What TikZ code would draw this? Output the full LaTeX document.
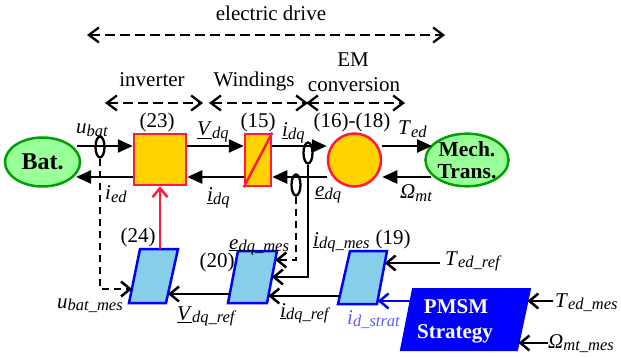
\documentclass[tikz,border=0pt]{standalone}
\usepackage{fontspec}
\setmainfont{Liberation Serif}
\usetikzlibrary{arrows.meta,shapes.geometric}
\definecolor{goldf}{HTML}{FFD200}
\definecolor{redb}{HTML}{FF1A3C}
\definecolor{greenf}{HTML}{99FF99}
\definecolor{greenb}{HTML}{00A000}
\definecolor{skyf}{HTML}{87CEEB}
\definecolor{blueb}{HTML}{0000FF}
\definecolor{stratc}{HTML}{5A5AFF}
\newcommand{\sv}[2]{\textit{#1}\raisebox{-2.5pt}{\fontsize{16.5}{16.5}\selectfont\itshape #2}}
\newcommand{\usv}[2]{\underline{\textit{#1}}\raisebox{-2.5pt}{\fontsize{16.5}{16.5}\selectfont\itshape #2}}
\begin{document}
\begin{tikzpicture}[x=1pt,y=-1pt,
  font=\fontsize{21}{24}\selectfont,
  fa/.style={line width=2.5pt,-{Triangle[length=15pt,width=13pt]}},
  oa/.style={line width=2.5pt,-{Straight Barb[length=9pt,width=15pt]}},
  dsh/.style={dash pattern=on 7pt off 5pt},
  dd/.style={line width=2.3pt,dash pattern=on 10pt off 5pt,
     {Straight Barb[length=10pt,width=15pt]}-{Straight Barb[length=10pt,width=15pt]}},
  lbl/.style={inner sep=0pt},
  pbox/.style={draw=blueb,fill=skyf,line width=2.5pt,line join=miter},
  yb/.style={draw=redb,fill=goldf,line width=2.5pt,inner sep=0pt},
  gel/.style={ellipse,draw=greenb,fill=greenf,line width=2.5pt,inner sep=0pt},
  ring/.style={ellipse,draw,line width=2.3pt,minimum width=9pt,minimum height=21pt,inner sep=0pt}]
\useasboundingbox (0,0) rectangle (621,358);

% --- top scope arrows ---
\coordinate (edL) at (87,35); \coordinate (edR) at (445,35);
\draw[dd] (edL) -- (edR);
\node[lbl,anchor=base] (ted) at (271,21) {electric drive};
\coordinate (invL) at (105,103); \coordinate (invR) at (203,103);
\draw[dd] (invL) -- (invR);
\node[lbl,anchor=base] (tinv) at (152,87) {inverter};
\coordinate (winL) at (209,103); \coordinate (winR) at (308,103);
\draw[dd] (winL) -- (winR);
\node[lbl,anchor=base] (twin) at (254,87) {Windings};
\coordinate (emL) at (306,103); \coordinate (emR) at (405,103);
\draw[dd] (emL) -- (emR);
\node[lbl,anchor=base] (tem1) at (353,67) {EM};
\node[lbl,anchor=base] (tem2) at (354,92) {conversion};

% --- main blocks ---
\coordinate (rowA) at (0,146);
\coordinate (rowB) at (0,177);
\node[gel,minimum width=75pt,minimum height=49pt,font=\fontsize{24}{24}\selectfont\bfseries] (bat) at (42.5,162) {Bat.};
\node[yb,minimum width=52pt,minimum height=51pt] (inv) at (160,159.5) {};
\node[yb,minimum width=26pt,minimum height=52pt] (win) at (258,160) {};
\draw[redb,line width=2.5pt] (win.south west) -- (win.north east);
\node[yb,circle,minimum size=53pt] (em) at (354.5,160) {};
\node[gel,minimum width=76pt,minimum height=50pt,align=center,
  font=\fontsize{21.5}{22}\selectfont\bfseries] (mech) at (467,160) {Mech.\\Trans.};

\node[lbl,anchor=base] (n23) at (157,128) {(23)};
\node[lbl,anchor=base] (n15) at (258,128) {(15)};
\node[lbl,anchor=base] (n16) at (352,128) {(16)-(18)};

% --- power arrows ---
\coordinate (batA) at (77,146);
\coordinate (batB) at (76,177);
\coordinate (mechA) at (432,146);
\coordinate (mechB) at (431,177);
\draw[fa] (batA) -- (inv.west |- rowA);
\draw[fa] (inv.west |- rowB) -- (batB);
\draw[fa] (inv.east |- rowA) -- (win.west |- rowA);
\draw[fa] (win.west |- rowB) -- (inv.east |- rowB);
\draw[fa] (win.east |- rowA) -- (em.west |- rowA);
\draw[fa] (em.west |- rowB) -- (win.east |- rowB);
\draw[fa] (em.east |- rowA) -- (mechA);
\draw[fa] (mechB) -- (em.east |- rowB);

% --- sensors ---
\node[ring] (r1) at (100,147) {};
\node[ring] (r2) at (308,153) {};
\node[ring] (r3) at (296,185) {};

% --- labels power ---
\node[lbl,anchor=base west] (lubat) at (76,134) {\sv{u}{bat}};
\node[lbl,anchor=base west] (lvdq) at (197,136) {\usv{V}{dq}};
\node[lbl,anchor=base west] (lidq) at (282,137) {\usv{i}{dq}};
\node[lbl,anchor=base west] (lted) at (398,135) {\sv{T}{ed}};
\node[lbl,anchor=base west] (lied) at (105,200) {\sv{i}{ed}};
\node[lbl,anchor=base west] (lidqb) at (207,202) {\usv{i}{dq}};
\node[lbl,anchor=base west] (ledq) at (315,197) {\usv{e}{dq}};
\node[lbl,anchor=base west] (lomt) at (400,199) {\sv{Ω}{mt}};

% --- parallelograms ---
\coordinate (p24tl) at (140,249); \coordinate (p24tr) at (178,249);
\coordinate (p24br) at (166,303); \coordinate (p24bl) at (129,303);
\draw[pbox] (p24tl) -- (p24tr) -- (p24br) -- (p24bl) -- cycle;
\coordinate (p20tl) at (238,251); \coordinate (p20tr) at (277,251);
\coordinate (p20br) at (267,303); \coordinate (p20bl) at (228,303);
\draw[pbox] (p20tl) -- (p20tr) -- (p20br) -- (p20bl) -- cycle;
\coordinate (p19tl) at (350,251); \coordinate (p19tr) at (387,251);
\coordinate (p19br) at (377,304); \coordinate (p19bl) at (338,304);
\draw[pbox] (p19tl) -- (p19tr) -- (p19br) -- (p19bl) -- cycle;
\coordinate (pmtl) at (413,289); \coordinate (pmtr) at (530,289);
\coordinate (pmbr) at (517,350); \coordinate (pmbl) at (401,350);
\draw[draw=blueb,fill=blueb,line width=2pt] (pmtl) -- (pmtr) -- (pmbr) -- (pmbl) -- cycle;
\node[lbl,anchor=base,text=white,font=\fontsize{21}{24}\selectfont\bfseries] (pm1) at (456,313) {PMSM};
\node[lbl,anchor=base,text=white,font=\fontsize{21}{24}\selectfont\bfseries] (pm2) at (455,338) {Strategy};

\node[lbl,anchor=base] (n24) at (138,242) {(24)};
\node[lbl,anchor=base] (n20) at (217,267) {(20)};
\node[lbl,anchor=base] (n19) at (393,244) {(19)};

% --- edge points on parallelograms ---
\coordinate (p24top) at (160,249);
\coordinate (p24in) at (132,289);
\coordinate (p24r) at (168,294);
\coordinate (p20a) at (275.3,260);
\coordinate (p20b) at (272,277);
\coordinate (p20c) at (268.3,296);
\coordinate (p20l) at (229.7,294);
\coordinate (p19l) at (339.8,296);
\coordinate (p19ra) at (384.7,263);
\coordinate (p19rb) at (377.6,301);
\coordinate (pml) at (410.6,301);
\coordinate (pmra) at (527.4,301);
\coordinate (pmrb) at (518.5,343);
\coordinate (trefS) at (440,263);
\coordinate (tmesS) at (553,301);
\coordinate (omesS) at (548,343);

% --- control connectors ---
\draw[oa,dsh] (r1.south) |- (p24in);
\draw[oa] (r2.south) |- (p20b);
\draw[oa,dsh] (r3.south) |- (p20a);
\draw[oa,redb] (p24top) -- (inv.south);
\draw[oa] (p20l) -- (p24r);
\draw[oa] (p19l) -- (p20c);
\draw[oa] (trefS) -- (p19ra);
\draw[oa,blueb] (pml) -- (p19rb);
\draw[oa] (tmesS) -- (pmra);
\draw[oa] (omesS) -- (pmrb);

% --- control labels ---
\node[lbl,anchor=base west] (lubm) at (57,308) {\sv{u}{bat\_mes}};
\node[lbl,anchor=base west] (lvref) at (177,320) {\usv{V}{dq\_ref}};
\node[lbl,anchor=base west] (lemes) at (229,249) {\usv{e}{dq\_mes}};
\node[lbl,anchor=base west] (limes) at (313,246) {\usv{i}{dq\_mes}};
\node[lbl,anchor=base west] (liref) at (280,317) {\usv{i}{dq\_ref}};
\node[lbl,anchor=base west,text=stratc] (lids) at (347,324) {\sv{i}{d\_strat}};
\node[lbl,anchor=base west] (ltref) at (445,265) {\sv{T}{ed\_ref}};
\node[lbl,anchor=base west] (ltmes) at (555,307) {\sv{T}{ed\_mes}};
\node[lbl,anchor=base west] (lomes) at (548,348) {\sv{Ω}{mt\_mes}};
\end{tikzpicture}
\end{document}
